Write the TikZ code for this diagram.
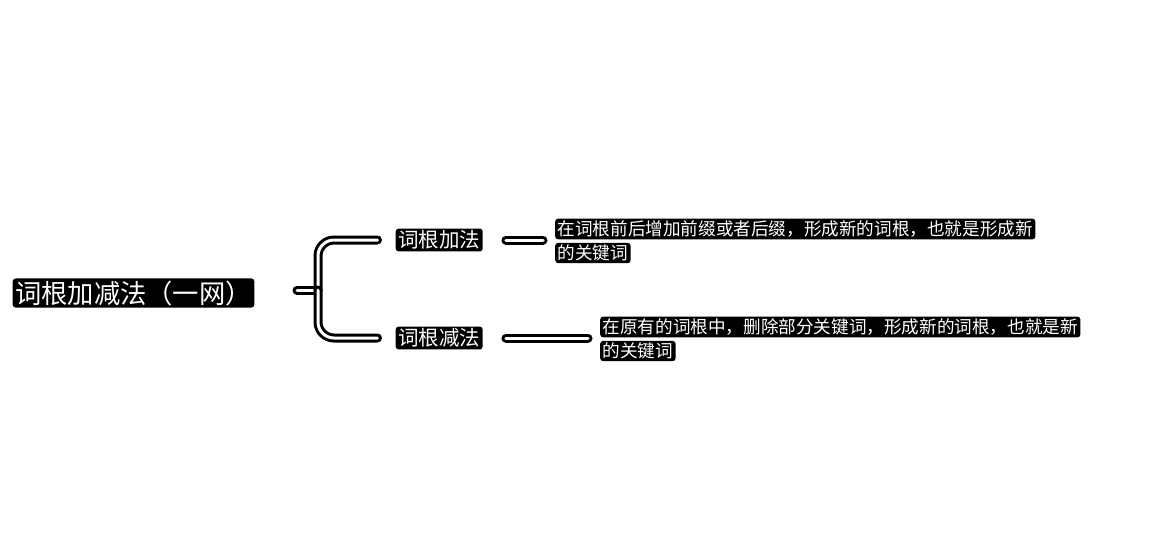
\documentclass[tikz,border=0pt]{standalone}
\usepackage{fontspec}
\newfontfamily\cjk{Noto Sans CJK SC}
\tikzset{
  txt/.style={inner xsep=2.5pt, inner ysep=2pt, fill=black, text=white, rounded corners=3pt, anchor=west},
  titletxt/.style={txt, font=\cjk\fontsize{26.3}{30}\selectfont},
  branchtxt/.style={txt, font=\cjk\fontsize{20.5}{24}\selectfont},
  desctxt/.style={txt, font=\cjk\fontsize{17.6}{24}\selectfont},
  conn/.style={draw=black, line width=3pt, double=white, double distance=3pt, line cap=round},
}
\begin{document}
\begin{tikzpicture}[x=1pt,y=-1pt]
\fill[white] (0,0) rectangle (1167,536);
\useasboundingbox (0,0) rectangle (1167,536);
\node[titletxt] (root) at (12.5,293) {词根加减法（一网）};
\node[branchtxt] (a) at (395.5,240) {词根加法};
\node[branchtxt] (b) at (395.5,338) {词根减法};
\node[desctxt] (da1) at (555,229) {在词根前后增加前缀或者后缀，形成新的词根，也就是形成新};
\node[desctxt] (da2) at (555,253) {的关键词};
\node[desctxt] (db1) at (600,327) {在原有的词根中，删除部分关键词，形成新的词根，也就是新};
\node[desctxt] (db2) at (600,351) {的关键词};
\coordinate (j) at (318,290);
\coordinate (s) at (297,290);
\draw[conn] (s) -- (j);
\draw[conn, rounded corners=16pt] (j) |- ([xshift=-18]a.west);
\draw[conn, rounded corners=16pt] (j) |- ([xshift=-18]b.west);
\draw[conn] ([xshift=23]a.east) -- ([xshift=-12]da1.west |- a.east);
\draw[conn] ([xshift=23]b.east) -- ([xshift=-12]db1.west |- b.east);
\end{tikzpicture}
\end{document}
